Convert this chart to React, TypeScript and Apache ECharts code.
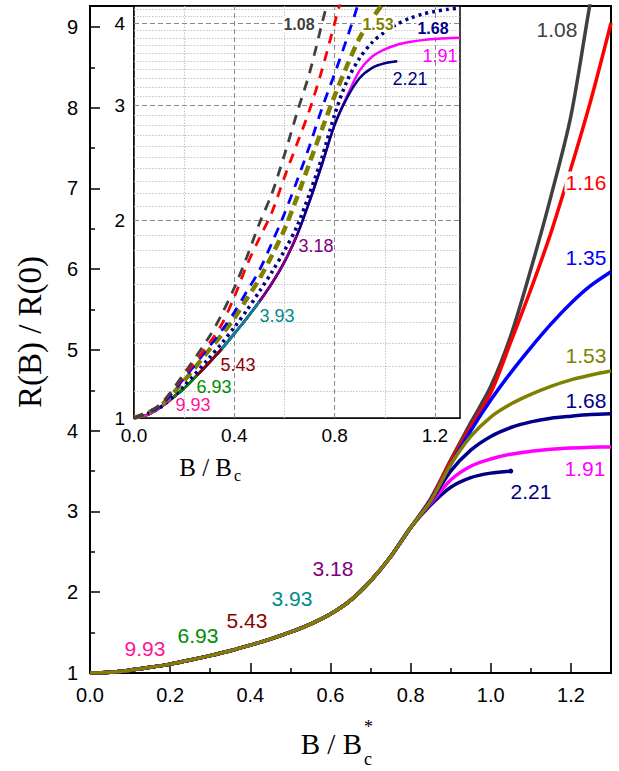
import React, { useEffect, useRef } from "react";
import * as echarts from "echarts";

// ---------- data (main panel, x = B / Bc*) ----------
const commonX = [0, 0.05, 0.1, 0.15, 0.2, 0.25, 0.3, 0.35, 0.4, 0.45, 0.5, 0.55, 0.6, 0.65, 0.7, 0.75, 0.8];
const commonY = [1.0, 1.01, 1.035, 1.07, 1.11, 1.16, 1.215, 1.275, 1.345, 1.42, 1.505, 1.605, 1.73, 1.9, 2.14, 2.44, 2.8];

const tailX = [0.85, 0.9, 0.95, 1.0, 1.05, 1.1, 1.15, 1.2, 1.25, 1.3];
const tail221 = [3.08, 3.3, 3.42, 3.475, 3.5];
const tail191 = [3.1, 3.39, 3.56, 3.65, 3.71, 3.745, 3.77, 3.785, 3.795, 3.8];
const tail168 = [3.12, 3.5, 3.76, 3.93, 4.04, 4.11, 4.155, 4.18, 4.2, 4.21];
const tail153 = [3.13, 3.58, 3.93, 4.17, 4.33, 4.45, 4.55, 4.63, 4.69, 4.74];
const tail135 = [3.14, 3.58, 4.0, 4.38, 4.72, 5.03, 5.32, 5.58, 5.8, 5.97];
const tail116 = [3.15, 3.62, 4.05, 4.47, 5.1, 5.75, 6.45, 7.25, 8.1, 9.05];
const tail108 = [3.16, 3.64, 4.1, 4.55, 5.18, 6.0, 6.9, 7.9, 9.35, 10.6];

// curves of large parameter end early (last x of the common curve they reach)
const shortNames = ["3.18", "3.93", "5.43", "6.93", "9.93"];
const shortEnds = [0.65, 0.5, 0.35, 0.25, 0.15];

// ---------- data (inset, x = B / Bc) ----------
const insetX = [0, 0.1, 0.2, 0.3, 0.35, 0.4, 0.45, 0.5, 0.55, 0.6, 0.65, 0.7, 0.75, 0.8, 0.85, 0.9, 0.95, 1.0, 1.05, 1.1, 1.15, 1.2, 1.25, 1.3];
const inset108 = [1, 1.045, 1.17, 1.33, 1.44, 1.58, 1.76, 1.98, 2.2, 2.52, 2.92, 3.36, 4.0, 4.75];
const inset116 = [1, 1.045, 1.16, 1.3, 1.39, 1.53, 1.71, 1.88, 2.06, 2.33, 2.62, 2.95, 3.4, 4.0, 4.7];
const inset135 = [1, 1.04, 1.15, 1.285, 1.36, 1.45, 1.56, 1.68, 1.85, 2.05, 2.3, 2.6, 2.97, 3.35, 3.8, 4.35];
const inset153 = [1, 1.04, 1.14, 1.27, 1.34, 1.42, 1.52, 1.63, 1.77, 1.94, 2.17, 2.45, 2.76, 3.1, 3.45, 3.8, 4.07, 4.32];
const inset168 = [1, 1.035, 1.12, 1.235, 1.3, 1.375, 1.46, 1.56, 1.67, 1.8, 1.96, 2.2, 2.5, 2.9, 3.27, 3.54, 3.74, 3.88, 3.99, 4.07, 4.13, 4.17, 4.2, 4.22];

// inset grid / tick values
const insetYLabels = [1, 2, 3, 4];
const insetMajorY = [2, 3, 4];
const insetMinorY = [1.1, 1.2, 1.3, 1.4, 1.5, 1.6, 1.7, 1.8, 1.9, 2.1, 2.2, 2.3, 2.4, 2.5, 2.6, 2.7, 2.8, 2.9, 3.1, 3.2, 3.3, 3.4, 3.5, 3.6, 3.7, 3.8, 3.9, 4.1, 4.2];
const insetMajorX = [0.4, 0.8, 1.2];
const insetMinorX = [0.2, 0.6, 1.0];

const COLORS: Record<string, string> = {
  "1.08": "#404040",
  "1.16": "#ff0000",
  "1.35": "#0000ff",
  "1.53": "#808000",
  "1.68": "#00008b",
  "1.91": "#ff00ff",
  "2.21": "#000080",
  "3.18": "#800080",
  "3.93": "#008b8b",
  "5.43": "#8b0000",
  "6.93": "#008c00",
  "9.93": "#ff1493",
};

function pairs(xs: number[], ys: number[]) {
  return ys.map((y, i) => [xs[i], y]);
}
function commonUpTo(end: number) {
  const out: number[][] = [];
  commonX.forEach((x, i) => {
    if (x <= end + 1e-9) out.push([x, commonY[i]]);
  });
  return out;
}
function withTail(tail: number[]) {
  return commonUpTo(0.8).concat(pairs(tailX, tail));
}
function endDot(data: number[][]) {
  const out: any[] = data.slice(0, -1);
  out.push({ value: data[data.length - 1], symbol: "circle", symbolSize: 5 });
  return out;
}

const NUM_FONT = '"Liberation Sans", Arial, sans-serif';
const SERIF = '"Liberation Serif", "Times New Roman", serif';

function buildOption() {
  const series: any[] = [];
  const mainLine = (name: string, data: any[], width = 3.5) => ({
    name,
    type: "line",
    xAxisIndex: 0,
    yAxisIndex: 0,
    data,
    symbol: "none",
    smooth: 0.3,
    silent: true,
    itemStyle: { color: COLORS[name] },
    lineStyle: { color: COLORS[name], width },
    z: 3,
  });
  shortNames.forEach((n, i) => series.push(mainLine(n, commonUpTo(shortEnds[i]))));
  series.push(mainLine("2.21", endDot(withTail(tail221))));
  series.push(mainLine("1.91", withTail(tail191)));
  series.push(mainLine("1.68", withTail(tail168)));
  series.push(mainLine("1.08", withTail(tail108)));
  series.push(mainLine("1.16", withTail(tail116)));
  series.push(mainLine("1.35", withTail(tail135)));
  series.push(mainLine("1.53", withTail(tail153)));

  // inset grid lines (drawn through the inset axes)
  const major = { color: "#8a8a8a", width: 1, type: [5, 3] };
  const minor = { color: "#c4c4c4", width: 1, type: [1.5, 1.5] };
  series.push({
    type: "line",
    xAxisIndex: 1,
    yAxisIndex: 1,
    data: [],
    symbol: "none",
    silent: true,
    lineStyle: { opacity: 0 },
    markLine: {
      silent: true,
      z: 1,
      animation: false,
      symbol: ["none", "none"],
      label: { show: false },
      data: [
        ...insetMinorY.map((v) => ({ yAxis: v, lineStyle: minor })),
        ...insetMinorX.map((v) => ({ xAxis: v, lineStyle: minor })),
        ...insetMajorY.map((v) => ({ yAxis: v, lineStyle: major })),
        ...insetMajorX.map((v) => ({ xAxis: v, lineStyle: major })),
      ],
    },
  });

  const insetLine = (name: string, data: number[][], style: any) => ({
    name: "inset " + name,
    type: "line",
    xAxisIndex: 1,
    yAxisIndex: 1,
    data,
    symbol: "none",
    smooth: 0.3,
    silent: true,
    lineStyle: { color: COLORS[name], width: 2.5, ...style },
    z: 4,
  });
  series.push(insetLine("1.91", withTail(tail191), {}));
  series.push(insetLine("2.21", withTail(tail221), {}));
  shortNames.forEach((n, i) => series.push(insetLine(n, commonUpTo(shortEnds[i]), {})));
  series.push(insetLine("1.68", pairs(insetX, inset168), { width: 3.5, type: [3, 4] }));
  series.push(insetLine("1.53", pairs(insetX, inset153), { width: 4.5, type: [10, 6] }));
  series.push(insetLine("1.35", pairs(insetX, inset135), { width: 2.8, type: [10, 8] }));
  series.push(insetLine("1.16", pairs(insetX, inset116), { width: 2.8, type: [10, 8] }));
  series.push(insetLine("1.08", pairs(insetX, inset108), { width: 2.8, type: [10, 8] }));

  const lbl = (text: string, x: number, y: number, size: number, bold = false, bg = false) => ({
    type: "text",
    x,
    y,
    z: 100,
    silent: true,
    style: {
      text,
      fill: COLORS[text],
      font: `${bold ? "bold " : ""}${size}px ${NUM_FONT}`,
      align: "center",
      verticalAlign: "middle",
      textAlign: "center",
      textVerticalAlign: "middle",
      ...(bg ? { backgroundColor: "#fff", padding: [0, 1] } : {}),
    },
  });

  const sub = (text: string, x: number, y: number, size: number) => ({
    type: "text",
    x,
    y,
    z: 100,
    style: { text, fill: "#000", font: `${size}px ${SERIF}`, align: "left", verticalAlign: "middle", textAlign: "left", textVerticalAlign: "middle" },
  });

  const graphic: any[] = [
    // main labels
    lbl("1.08", 557, 29, 21),
    lbl("1.16", 586, 182, 21, false, true),
    lbl("1.35", 586, 257, 21),
    lbl("1.53", 586, 355, 21),
    lbl("1.68", 586, 400, 21),
    lbl("1.91", 585, 468, 21),
    lbl("2.21", 531, 491, 21),
    lbl("3.18", 333, 568, 21),
    lbl("3.93", 292, 598, 21),
    lbl("5.43", 247, 620, 21),
    lbl("6.93", 198, 635, 21),
    lbl("9.93", 145, 648, 21),
    // inset labels
    lbl("1.08", 299, 24, 16, true, true),
    lbl("1.53", 378, 24, 16, true, true),
    lbl("1.68", 433, 28, 16, true, true),
    lbl("1.91", 440, 56, 18),
    lbl("2.21", 410, 79, 18),
    lbl("3.18", 316, 246, 18),
    lbl("3.93", 277, 316, 18),
    lbl("5.43", 238, 365, 18),
    lbl("6.93", 214, 387, 18),
    lbl("9.93", 193, 405, 18),
    // axis titles
    {
      type: "text",
      x: 30,
      y: 332,
      rotation: Math.PI / 2,
      z: 100,
      style: {
        text: "R(B) / R(0)",
        fill: "#000",
        font: `33px ${SERIF}`,
        align: "center",
        verticalAlign: "middle",
        textAlign: "center",
        textVerticalAlign: "middle",
      },
    },
    {
      type: "text",
      x: 362,
      y: 744,
      z: 100,
      style: {
        text: "B / B",
        fill: "#000",
        font: `29px ${SERIF}`,
        align: "right",
        verticalAlign: "middle",
        textAlign: "right",
        textVerticalAlign: "middle",
      },
    },
    sub("c", 364, 759, 18),
    sub("*", 364, 727, 18),
    {
      type: "text",
      x: 232,
      y: 467,
      z: 100,
      style: {
        text: "B / B",
        fill: "#000",
        font: `25px ${SERIF}`,
        align: "right",
        verticalAlign: "middle",
        textAlign: "right",
        textVerticalAlign: "middle",
      },
    },
    sub("c", 234, 475, 16),
  ];

  return {
    animation: false,
    backgroundColor: "#fff",
    grid: [
      { left: 90, top: 6, width: 521, height: 667, show: true, borderColor: "#000", borderWidth: 2, backgroundColor: "#fff", containLabel: false, outerBoundsMode: "none" },
      { left: 134, top: 6, width: 326, height: 412, show: true, borderColor: "#000", borderWidth: 1.5, backgroundColor: "#fff", containLabel: false, outerBoundsMode: "none", z: 1 },
    ],
    xAxis: [
      {
        type: "value",
        gridIndex: 0,
        min: 0,
        max: 1.3,
        interval: 0.2,
        axisLine: { show: true, lineStyle: { color: "#000", width: 2 } },
        axisTick: { show: true, inside: true, length: 10, lineStyle: { color: "#000", width: 1.5 } },
        minorTick: { show: true, splitNumber: 2, length: 5, lineStyle: { color: "#000", width: 1.5 } },
        splitLine: { show: false },
        axisLabel: {
          show: true,
          margin: 12,
          fontSize: 20,
          color: "#000",
          fontFamily: NUM_FONT,
          showMaxLabel: false,
          formatter: (v: number) => v.toFixed(1),
        },
      },
      {
        type: "value",
        gridIndex: 1,
        min: 0,
        max: 1.3,
        interval: 0.4,
        axisLine: { show: true, lineStyle: { color: "#000", width: 1.5 } },
        axisTick: { show: false },
        splitLine: { show: false },
        axisLabel: {
          show: true,
          margin: 8,
          fontSize: 19,
          color: "#000",
          fontFamily: NUM_FONT,
          showMaxLabel: false,
          formatter: (v: number) => v.toFixed(1),
        },
      },
    ],
    yAxis: [
      {
        type: "value",
        gridIndex: 0,
        min: 1,
        max: 9.26,
        interval: 1,
        axisLine: { show: true, lineStyle: { color: "#000", width: 2 } },
        axisTick: { show: true, inside: true, length: 10, lineStyle: { color: "#000", width: 1.5 } },
        minorTick: { show: true, splitNumber: 2, length: 5, lineStyle: { color: "#000", width: 1.5 } },
        splitLine: { show: false },
        axisLabel: {
          show: true,
          margin: 12,
          fontSize: 20,
          color: "#000",
          fontFamily: NUM_FONT,
          showMaxLabel: false,
          formatter: (v: number) => String(Math.round(v)),
        },
      },
      {
        type: "log",
        gridIndex: 1,
        min: 1,
        max: 4.25,
        logBase: 10,
        axisLine: { show: true, lineStyle: { color: "#000", width: 1.5 } },
        axisTick: { show: false, customValues: insetYLabels },
        minorTick: { show: false },
        splitLine: { show: false },
        axisLabel: {
          show: true,
          margin: 9,
          fontSize: 19,
          color: "#000",
          fontFamily: NUM_FONT,
          customValues: insetYLabels,
          formatter: (v: number) => String(Math.round(v)),
        },
      },
    ],
    series,
    graphic,
  };
}

export default function App() {
  const ref = useRef<HTMLDivElement>(null);
  useEffect(() => {
    document.body.style.margin = "0";
    const chart = echarts.init(ref.current!, null, { renderer: "svg" });
    chart.setOption(buildOption() as any);
    return () => chart.dispose();
  }, []);
  return <div ref={ref} style={{ width: 619, height: 771 }} />;
}
